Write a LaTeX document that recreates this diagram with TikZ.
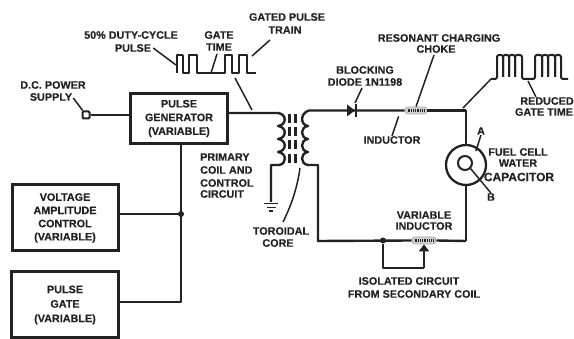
\documentclass[tikz,border=0pt]{standalone}
\usepackage{fontspec}
\setmainfont{Liberation Sans}
\newfontfamily\lblfont{Liberation Sans Bold}[FakeBold=0.35]
\usetikzlibrary{arrows.meta,calc}
\definecolor{ink}{HTML}{222222}
\tikzset{
  wire/.style={draw=ink,line width=2.4pt,line join=round},
  boxwire/.style={draw=ink,line width=3pt},
  ptr/.style={draw=ink,line width=1.5pt},
  wave/.style={draw=ink,line width=2pt,line join=round},
  lab/.style={font=\fontsize{10.8}{11}\selectfont\lblfont,text=ink,inner sep=0pt},
  blk/.style={boxwire,fill=white,font=\fontsize{10.8}{13.7}\selectfont\lblfont,text=ink,align=center,inner sep=0pt,anchor=north west},
  choke/.style={draw=gray!70,fill=gray!35,rounded corners=3pt,line width=.7pt,inner sep=0pt,minimum height=7pt},
  dotn/.style={circle,fill=ink,inner sep=0pt,minimum size=6pt},
}
\begin{document}
\begin{tikzpicture}[x=1pt,y=-1pt]
\useasboundingbox (0,0) rectangle (574,339);
% blocks
\node[blk,minimum width=97pt,minimum height=50pt] (gen) at (129,92) {PULSE\\GENERATOR\\(VARIABLE)};
\node[blk,minimum width=106pt,minimum height=66pt,font=\fontsize{10.8}{13.2}\selectfont\lblfont] (volt) at (10.5,183.5) {VOLTAGE\\AMPLITUDE\\CONTROL\\(VARIABLE)};
\node[blk,draw=none,fill=none,minimum width=106pt,minimum height=63pt,font=\fontsize{10.8}{14.5}\selectfont\lblfont] (gate) at (10.5,272) {PULSE\\GATE\\(VARIABLE)};
\draw[boxwire] (11,342) -- (11,272) -- (118,272) -- (118,342);
\draw[boxwire] (11,338) -- (118,338);
% supply
\node[draw=ink,line width=2pt,fill=white,minimum size=7pt,inner sep=0pt,rounded corners=1pt] (term) at (86,115) {};
\draw[wire,line width=2.8pt] (term) -- (term -| gen.west);
% control bus
\coordinate (busj) at (181,214);
\coordinate (busb) at (181,302);
\draw[wire] (gen.south -| busj) -- (busb) -- (busb -| gate.east);
\draw[wire] (volt.east |- busj) -- (busj);
\node[dotn] (busdot) at (busj) {};
% primary
\coordinate (p0) at (278,113);
\coordinate (gnd) at (271,202);
\draw[wire] (gen.east |- p0) -- (p0)
  .. controls (287,114) and (287,125) .. (278,126)
  .. controls (287,127) and (287,138) .. (278,139)
  .. controls (287,140) and (287,151) .. (278,152)
  .. controls (287,153) and (287,164) .. (279,165)
  -- (271,165) -- (gnd);
\draw[ink,line width=1.5pt] (264,203.5) -- (278,203.5) (266.5,207.5) -- (275.5,207.5) (269,211) -- (273,211);
% core
\foreach \yy in {114,127,140,154}{
  \draw[ink,line width=2.4pt] (289.5,\yy) -- (289.5,\yy+9.5) (295.5,\yy) -- (295.5,\yy+9.5);
}
% secondary
\coordinate (s0) at (309,110.5);
\coordinate (top) at (466,110.5);
\coordinate (corner) at (466,241);
\coordinate (sl) at (318,241);
\node[choke,minimum width=22pt] (l1) at (416,110.5) {};
\node[choke,minimum width=24pt] (l2) at (424,240.5) {};
\draw[wire] (l1.east) -- (top);
\draw[wire] (l1.west) -- (s0)
  .. controls (300,113) and (300,125) .. (308,126)
  .. controls (300,127) and (300,138) .. (308,139)
  .. controls (300,140) and (300,151) .. (308,152)
  .. controls (300,153) and (300,164) .. (308,165)
  -- (318,165) -- (sl) -- (l2.west);
\draw[wire] (l2.east) -- (corner);
\draw[ink,line width=2.6pt,dash pattern=on .9pt off .9pt] (l1.west)+(3,0) -- ($(l1.east)+(-3,0)$);
\draw[ink,line width=2.6pt,dash pattern=on .9pt off .9pt] (l2.west)+(3,0) -- ($(l2.east)+(-3,0)$);
\fill[ink] (347,104.5) -- (355,110.5) -- (347,116.5) -- cycle;
\draw[ink,line width=2pt] (356,104) -- (356,117);
% capacitor
\node[circle,draw=ink,line width=2.3pt,fill=white,minimum size=40pt,inner sep=0pt] (cap) at (466,165) {};
\node[circle,draw=ink,line width=2pt,fill=white,minimum size=14pt,inner sep=0pt] (capin) at (465,163) {};
\draw[wire] (top) -- (cap.north);
\draw[wire] (cap.south) -- (corner);
% isolated loop
\node[dotn] (jn) at (383,240.5) {};
\coordinate (lb) at (383,268);
\coordinate (rb) at (424,268);
\draw[wire] (jn) -- (lb) -- (rb);
\draw[wire,-{Triangle[length=7pt,width=10pt]}] (rb) -- (l2.south);
% input waveform
\draw[wave] (182.5,55) -- (182.5,73) -- (189,73) -- (189,55) -- (197,55) -- (197,73) -- (225,73) -- (225,55) -- (232,55) -- (232,73) -- (239,73) -- (239,55) -- (247,55) -- (247,73) -- (256,73);
\draw[wave] (177,73) -- (177,55) -- (182.5,55);
% output waveform
\coordinate (w0) at (491,79);
\draw[wave,rounded corners=2pt] (w0) -- (497,79) -- (497,55) -- (503,55) -- (503,77);
\draw[wave,rounded corners=2pt] (503,77) -- (503,55) -- (509,55) -- (509,77);
\draw[wave,rounded corners=2pt] (509,77) -- (509,55) -- (515,55) -- (515,77);
\draw[wave,rounded corners=2pt] (515,77) -- (515,55) -- (522,55) -- (522,79) -- (535,79) -- (535,55) -- (542,55) -- (542,77);
\draw[wave,rounded corners=2pt] (542,77) -- (542,55) -- (548,55) -- (548,77);
\draw[wave,rounded corners=2pt] (548,77) -- (548,55) -- (555,55) -- (555,77);
\draw[wave,rounded corners=2pt] (555,77) -- (555,55) -- (561,55) -- (561,79) -- (568,79);
% labels
\node[lab] (t1) at (131,35) {50\% DUTY-CYCLE};
\node[lab] (t2) at (133,48) {PULSE};
\node[lab] (t3) at (219,35) {GATE};
\node[lab] (t4) at (219,47) {TIME};
\node[lab] (t5) at (287,17) {GATED PULSE};
\node[lab] (t6) at (285,30) {TRAIN};
\node[lab] (t7) at (53,85) {D.C. POWER};
\node[lab] (t8) at (51,97) {SUPPLY};
\node[lab,anchor=west] (t9) at (200,157) {PRIMARY};
\node[lab,anchor=west] (t10) at (200,170) {COIL AND};
\node[lab,anchor=west] (t11) at (200,183) {CONTROL};
\node[lab,anchor=west] (t12) at (200,194) {CIRCUIT};
\node[lab] (t13) at (281,231) {TOROIDAL};
\node[lab] (t14) at (278,243) {CORE};
\node[lab] (t15) at (365,70) {BLOCKING};
\node[lab] (t16) at (365,82) {DIODE 1N1198};
\node[lab] (t17) at (439,38) {RESONANT CHARGING};
\node[lab] (t18) at (436,49) {CHOKE};
\node[lab] (t19) at (392,140) {INDUCTOR};
\node[lab] (t20) at (547,101) {REDUCED};
\node[lab] (t21) at (544,112) {GATE TIME};
\node[lab] (t22) at (518,152) {FUEL CELL};
\node[lab] (t23) at (518,163) {WATER};
\node[lab,font=\fontsize{12}{12}\selectfont\lblfont] (t24) at (519,177) {CAPACITOR};
\node[lab] (tA) at (481,131) {A};
\node[lab] (tB) at (491,197) {B};
\node[lab] (t25) at (424,215) {VARIABLE};
\node[lab] (t26) at (424,226) {INDUCTOR};
\node[lab] (t27) at (409,281) {ISOLATED CIRCUIT};
\node[lab] (t28) at (414,294) {FROM SECONDARY COIL};
% pointers
\draw[ptr] (t2.east)+(2,0) -- (176,65);
\draw[ptr] (t4.south)+(-2,3) -- (211,73);
\draw[ptr] (270,40) -- (252,56);
\draw[ptr] (235,78) -- (252,110);
\draw[ptr] (t8.east)+(1,1) -- (term);
\draw[ptr] (t16.south)+(-3,2) -- (355,103);
\draw[ptr] (t18.south)+(-2,2) -- (l1.north);
\draw[ptr] (l1.south west)+(-6,2) -- (t19.north);
\draw[ptr] (w0) -- (463,108);
\draw[ptr] (528,81) -- (t20.north -| 536,0);
\draw[ptr] (cap.north east)+(-5,1) -- (tA.south);
\draw[ptr] (capin.south east) -- (tB.north);
\draw[ptr] (300,168) .. controls (297,190) and (290,208) .. (283,222);
\end{tikzpicture}
\end{document}
